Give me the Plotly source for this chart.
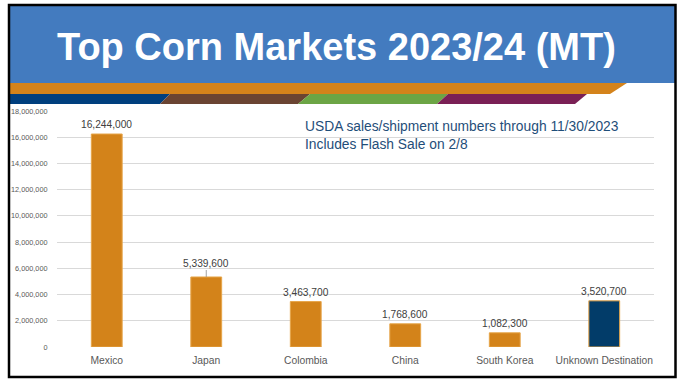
import plotly.graph_objects as go

# ---- data -------------------------------------------------------------
markets = ["Mexico", "Japan", "Colombia", "China", "South Korea", "Unknown Destination"]
volumes_mt = [16244000, 5339600, 3463700, 1768600, 1082300, 3520700]
y_ticks = [0, 2000000, 4000000, 6000000, 8000000, 10000000, 12000000,
           14000000, 16000000, 18000000]
title_text = "Top Corn Markets 2023/24 (MT)"
note_lines = ["USDA sales/shipment numbers through 11/30/2023",
              "Includes Flash Sale on 2/8"]

# ---- styling ----------------------------------------------------------
ORANGE = "#D3831A"
NAVY = "#023C69"
BAR_EDGE = "#E6A549"
HEADER_BLUE = "#437BBF"
FONT = "Liberation Sans"

W, H = 683, 380
PL, PR, PT, PB = 57, 654, 111, 347   # plot area in pixels


def fx(px):
    return (px - PL) / (PR - PL)


def fy(py):
    return (PB - py) / (PB - PT)


def poly(points, color):
    d = "M " + " L ".join(f"{fx(x):.5f},{fy(y):.5f}" for x, y in points) + " Z"
    return dict(type="path", xref="paper", yref="paper", path=d,
                fillcolor=color, line=dict(width=0), layer="below")


bar_colors = [NAVY if m == "Unknown Destination" else ORANGE for m in markets]

fig = go.Figure(
    go.Bar(
        x=markets,
        y=volumes_mt,
        width=0.31,
        marker=dict(color=bar_colors, line=dict(color=BAR_EDGE, width=1)),
        hoverinfo="skip",
    )
)

shapes = [
    # header band
    dict(type="rect", xref="paper", yref="paper",
         x0=fx(8), x1=fx(676), y0=fy(83), y1=fy(5),
         fillcolor=HEADER_BLUE, line=dict(width=0), layer="below"),
    poly([(8, 83), (627, 83), (610, 94), (8, 94)], "#D4831B"),
    poly([(8, 94), (170, 94), (160, 104), (8, 104)], "#003F7E"),
    poly([(170, 94), (310, 94), (298, 104), (160, 104)], "#6A4432"),
    poly([(310, 94), (448, 94), (437, 104), (298, 104)], "#6CA545"),
    poly([(448, 94), (587, 94), (575, 104), (437, 104)], "#7A2055"),
    # slide frame
    dict(type="rect", xref="paper", yref="paper",
         x0=fx(9), x1=fx(675.5), y0=fy(377), y1=fy(5),
         line=dict(color="black", width=2.5), fillcolor="rgba(0,0,0,0)",
         layer="above"),
]

annotations = [
    dict(text=f"<b>{title_text}</b>", xref="paper", yref="paper",
         x=fx(336), y=fy(47.5), xanchor="center", yanchor="middle",
         showarrow=False, font=dict(family=FONT, size=38, color="white")),
    dict(text="<br>".join(note_lines), xref="paper", yref="paper",
         x=fx(303), y=fy(135.5), xanchor="left", yanchor="middle", align="left",
         showarrow=False, font=dict(family=FONT, size=13.8, color="#1F4E79")),
]

# value labels; Japan's label sits a little higher on a short leader line
for m, v in zip(markets, volumes_mt):
    lifted = m == "Japan"
    label = dict(text=f"{v:,}", x=m, y=v, xref="x", yref="y",
                 font=dict(family=FONT, size=10.2, color="#404040"))
    if lifted:
        label.update(showarrow=True, ax=0, ay=-13, arrowhead=0,
                     arrowwidth=0.8, arrowcolor="#8C8C8C", standoff=0,
                     borderpad=0)
    else:
        label.update(showarrow=False, yanchor="middle", yshift=9.5)
    annotations.append(label)

fig.update_layout(
    width=W, height=H,
    margin=dict(l=PL, r=W - PR, t=PT, b=H - PB, pad=0),
    paper_bgcolor="white", plot_bgcolor="white",
    showlegend=False,
    shapes=shapes,
    annotations=annotations,
    bargap=0.69,
    font=dict(family=FONT),
    xaxis=dict(showgrid=False, showline=False, zeroline=False,
               ticks="outside", ticklen=4, tickcolor="rgba(0,0,0,0)",
               tickfont=dict(family=FONT, size=10.3, color="#595959")),
    yaxis=dict(range=[0, 18000000], tickvals=y_ticks, tickformat=",",
               showgrid=True, gridcolor="#D9D9D9", gridwidth=1,
               zeroline=False, showline=False,
               ticks="outside", ticklen=7, tickcolor="rgba(0,0,0,0)",
               tickfont=dict(family=FONT, size=7.3, color="#595959")),
)

fig.write_html("out.html")
